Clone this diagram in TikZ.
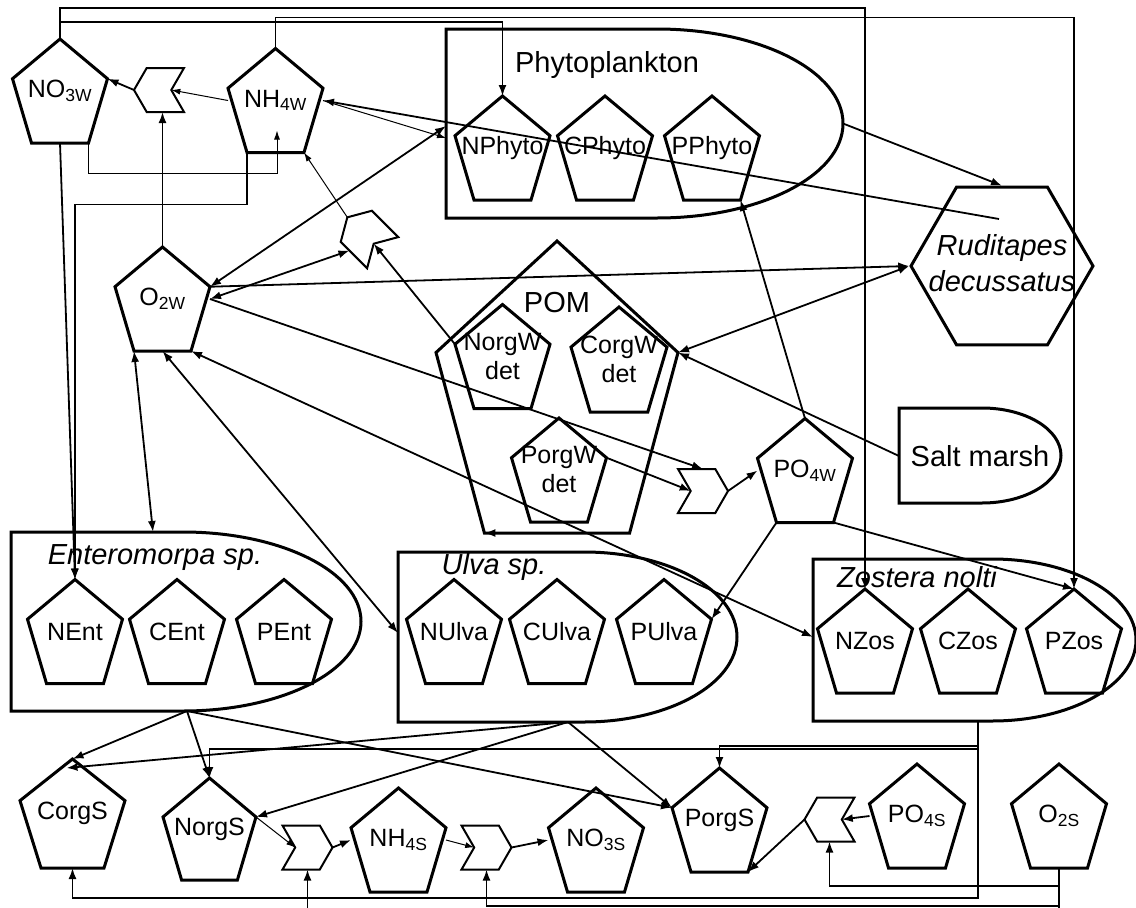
\documentclass[tikz,border=0pt]{standalone}
\usepackage{fontspec}
\setmainfont{Liberation Sans}
\usetikzlibrary{arrows.meta,calc,shapes.geometric,shapes.symbols}
% pentagon box: rectangle anchors, pentagon outline
\makeatletter
\newdimen\pxl \newdimen\pxr \newdimen\pyb \newdimen\pyt
\newdimen\pxm \newdimen\pyv \newdimen\pxbl \newdimen\pxbr
\pgfdeclareshape{penta}{%
  \inheritsavedanchors[from=rectangle]%
  \inheritanchorborder[from=rectangle]%
  \inheritanchor[from=rectangle]{center}%
  \inheritanchor[from=rectangle]{north}%
  \inheritanchor[from=rectangle]{south}%
  \inheritanchor[from=rectangle]{east}%
  \inheritanchor[from=rectangle]{west}%
  \inheritanchor[from=rectangle]{mid}%
  \inheritanchor[from=rectangle]{base}%
  \anchor{top}{\southwest \pgf@xa=\pgf@x \northeast \advance\pgf@x by \pgf@xa \pgf@x=.5\pgf@x}%
  \anchor{lv}{\northeast \pgf@ya=\pgf@y \southwest \pgf@y=.382\pgf@y \advance\pgf@y by .618\pgf@ya}%
  \anchor{rv}{\southwest \pgf@ya=\pgf@y \northeast \pgf@y=.618\pgf@y \advance\pgf@y by .382\pgf@ya}%
  \anchor{bl}{\northeast \pgf@xa=\pgf@x \southwest \pgf@x=.8\pgf@x \advance\pgf@x by .2\pgf@xa}%
  \anchor{br}{\southwest \pgf@xa=\pgf@x \pgf@ya=\pgf@y \northeast \pgf@x=.8\pgf@x \advance\pgf@x by .2\pgf@xa \pgf@y=\pgf@ya}%
  \backgroundpath{%
    \southwest \pxl=\pgf@x \pyb=\pgf@y
    \northeast \pxr=\pgf@x \pyt=\pgf@y
    \pxm=.5\pxl \advance\pxm by .5\pxr
    \pyv=.382\pyb \advance\pyv by .618\pyt
    \pxbl=.8\pxl \advance\pxbl by .2\pxr
    \pxbr=.2\pxl \advance\pxbr by .8\pxr
    \pgfpathmoveto{\pgfqpoint{\pxm}{\pyt}}%
    \pgfpathlineto{\pgfqpoint{\pxr}{\pyv}}%
    \pgfpathlineto{\pgfqpoint{\pxbr}{\pyb}}%
    \pgfpathlineto{\pgfqpoint{\pxbl}{\pyb}}%
    \pgfpathlineto{\pgfqpoint{\pxl}{\pyv}}%
    \pgfpathclose
  }%
}
\makeatother
\tikzset{>={Latex[length=11pt,width=8pt]}}
\tikzset{
  pool/.style={shape=penta,draw,line width=3pt,inner sep=0pt,outer sep=0pt,
    minimum width=95pt,minimum height=104pt,align=center,font=\fontsize{25}{29}\selectfont},
  chev/.style={signal,draw,line width=2pt,minimum width=50pt,minimum height=44pt,
    inner sep=0pt,outer sep=0pt,signal pointer angle=120,signal from=west,signal to=east},
  grp/.style={line width=3pt},
  route/.style={line width=1.8pt},
  fine/.style={line width=1pt,>={Latex[length=9pt,width=6pt]}},
  glabel/.style={inner sep=0pt,font=\fontsize{29}{34}\selectfont},
  slabel/.style={glabel,font=\itshape\fontsize{29}{34}\selectfont}
}

\begin{document}
\begin{tikzpicture}[x=1pt,y=-1pt]
\useasboundingbox (0,0) rectangle (1136,908);

% water column
\node[pool] (NO3W) at (60,91) {NO\textsubscript{3W}};
\node[pool] (NH4W) at (275.5,100.5) {NH\textsubscript{4W}};
\node[pool] (O2W) at (162.5,299) {O\textsubscript{2W}};
\node[pool] (PO4W) at (805,470.5) {PO\textsubscript{4W}};

% phytoplankton
\draw[grp] (446,29) -- (657,29) arc[start angle=-90,end angle=90,x radius=186,y radius=94.5] -- (446,218) -- cycle;
\node[glabel] (phytolbl) at (607,65) {Phytoplankton};
\node[pool] (NPhyto) at (502.5,148) {NPhyto};
\node[pool] (CPhyto) at (605,148) {CPhyto};
\node[pool] (PPhyto) at (712,148) {PPhyto};
\coordinate (PhyE) at (843,123.5);
\coordinate (PhyW) at (446,126);
\coordinate (PhyWlow) at (446,138);

% POM
\node[pool,minimum width=242pt,minimum height=292pt] (POM) at (557,387) {};
\node[glabel] (pomlbl) at (557,303) {POM};
\node[pool] (NorgWdet) at (502.5,356.5) {NorgW\\det};
\node[pool,minimum width=96pt,minimum height=105pt] (CorgWdet) at (619,359.5) {CorgW\\det};
\node[pool] (PorgWdet) at (559,470) {PorgW\\det};

% clams and salt marsh
\node[draw,line width=3pt,regular polygon,regular polygon sides=6,minimum size=182pt,inner sep=0pt] (Rud) at (1002,266) {};
\node[slabel,align=center,font=\itshape\fontsize{29}{36}\selectfont] (rudlbl) at (1002,263) {Ruditapes\\decussatus};
\coordinate (RudIn) at ($(Rud.center)+(-3,-47)$);
\draw[grp] (899,408) -- (982,408) arc[start angle=-90,end angle=90,x radius=79,y radius=47.5] -- (899,503) -- cycle;
\node[glabel] (saltlbl) at (980,456) {Salt marsh};
\coordinate (SaltW) at (899,456);

% macroalgae and seagrass
\draw[grp] (11,532) -- (183,532) arc[start angle=-90,end angle=90,x radius=178,y radius=89.5] -- (11,711) -- cycle;
\node[slabel] (entlbl) at (155,558) {Enteromorpa sp.};
\node[pool] (NEnt) at (75,631.5) {NEnt};
\node[pool] (CEnt) at (177,631.5) {CEnt};
\node[pool] (PEnt) at (284,631.5) {PEnt};
\coordinate (EntT) at (153,532);
\coordinate (EntB) at (187,711);

\draw[grp] (398,552) -- (584,552) arc[start angle=-90,end angle=90,x radius=153,y radius=85] -- (398,722) -- cycle;
\node[slabel] (ulvlbl) at (494,567) {Ulva sp.};
\node[pool] (NUlva) at (454,631.5) {NUlva};
\node[pool] (CUlva) at (557,631.5) {CUlva};
\node[pool] (PUlva) at (664,631.5) {PUlva};
\coordinate (UlvW) at (398,633);
\coordinate (UlvB) at (568,722);

\draw[grp] (813,559) -- (992,559) arc[start angle=-90,end angle=90,x radius=144,y radius=81] -- (813,721) -- cycle;
\node[slabel] (zoslbl) at (917,577) {Zostera nolti};
\node[pool] (NZos) at (865,641) {NZos};
\node[pool] (CZos) at (968,641) {CZos};
\node[pool] (PZos) at (1074,641) {PZos};
\coordinate (ZosW) at (813,637);
\coordinate (ZosB) at (978,721);

% sediment
\node[pool,minimum width=105pt,minimum height=109pt] (CorgS) at (72.5,813.5) {CorgS};
\node[pool,minimum width=93pt,minimum height=102pt] (NorgS) at (209.5,829) {NorgS};
\node[pool] (NH4S) at (398.5,840) {NH\textsubscript{4S}};
\node[pool] (NO3S) at (596,840) {NO\textsubscript{3S}};
\node[pool] (PorgS) at (719.5,820) {PorgS};
\node[pool] (PO4S) at (917,816) {PO\textsubscript{4S}};
\node[pool] (O2S) at (1059,816) {O\textsubscript{2S}};

% processes
\node[chev,signal to=west,signal from=east] (chev1) at (159,90) {};
\node[chev,rotate=135] (chev2) at (365,235) {};
\node[chev] (chev3) at (703,491) {};
\node[chev] (chev4) at (307.5,847.5) {};
\node[chev] (chev5) at (486.5,847.5) {};
\node[chev,signal to=west,signal from=east] (chev6) at (829.5,819.5) {};

% nitrogen in the water
\draw[route,->] (NO3W.top) -- ++(0,-17) -| (NPhyto.top);
\draw[route,->] (NO3W.top) -- ++(0,-31) -| (NZos.top);
\draw[route,->] (NH4W.top) -- ++(0,-31) -| (PZos.top);
\draw[fine,->] (NO3W.br) -- ++(0,30) -| ($(NH4W.center)+(1.5,30)$);
\draw[route,->] (NH4W.bl) -- ++(0,52) -| (NEnt.top);
\draw[route,->] (NO3W.south) -- (NEnt.top);
\draw[fine,->] (NH4W.west) -- (chev1.0);
\draw[route,->] (chev1.180) -- (NO3W.rv);
\draw[route,->] (O2W.top) -- (O2W.top |- chev1.south);
\draw[route,->] (RudIn) -- (NH4W.east);
\draw[fine,->] (NH4W.east) -- (PhyWlow);
\draw[route,<->] (PhyW) -- (O2W.rv);
\draw[route,->] (O2W.rv) -- (Rud.180);
\draw[route,<->] (O2W.east) -- (chev2.north);
\draw[route,->] (NorgWdet.lv) -- (chev2.180);
\draw[fine,->] (chev2.0) -- (NH4W.br);

% phosphorus and detritus
\draw[route,->] (O2W.east) -- (chev3.north);
\draw[route,->] (PorgWdet.rv) -- (chev3.180);
\draw[route,->] (chev3.0) -- (PO4W.west);
\draw[route,->] (PO4W.top) -- (PPhyto.br);
\draw[route,->] (PO4W.bl) -- (PUlva.rv);
\draw[route,->] (PO4W.br) -- (PZos.top);
\draw[route,->] (PhyE) -- (Rud.north);
\draw[route,<->] (POM.rv) -- (Rud.180);
\draw[route,->] (SaltW) -- (POM.rv);
\draw[route,->] (POM.br) -- (POM.bl);

% oxygen exchange
\draw[route,<->] (O2W.bl) -- (EntT);
\draw[route,<->] (O2W.south) -- (UlvW);
\draw[route,<->] (O2W.br) -- (ZosW);

% to the sediment
\draw[route,->] (EntB) -- (CorgS.top);
\draw[route,->] (EntB) -- (NorgS.top);
\draw[route,->] (EntB) -- (PorgS.lv);
\draw[route,->] (UlvB) -- ($(CorgS.top)+(-6,9)$);
\draw[route,->] (UlvB) -- (NorgS.rv);
\draw[route,->] (UlvB) -- (PorgS.lv);
\draw[route,->] (ZosB) -- ++(0,25) -| (PorgS.top);
\draw[route,->] (ZosB) -- ++(0,28) -| (NorgS.top);
\draw[route,->] (ZosB) -- ++(0,177) -| (CorgS.south);

% sediment processes
\draw[fine,->] (NorgS.rv) -- (chev4.180);
\draw[route,->] (chev4.0) -- (NH4S.west);
\draw[fine,->] (NH4S.east) -- (chev5.180);
\draw[route,->] (chev5.0) -- (NO3S.west);
\draw[route,->] (PO4S.west) -- (chev6.0);
\draw[route,->] (chev6.180) -- (PorgS.br);
\draw[route,->] (O2S.south) -- ++(0,18) -| (chev6.south);
\draw[route,->] (O2S.south) -- ++(0,38) -| (chev5.south);
\draw[route,->] (O2S.south) -- ++(0,52) -| (chev4.south);
\end{tikzpicture}
\end{document}
